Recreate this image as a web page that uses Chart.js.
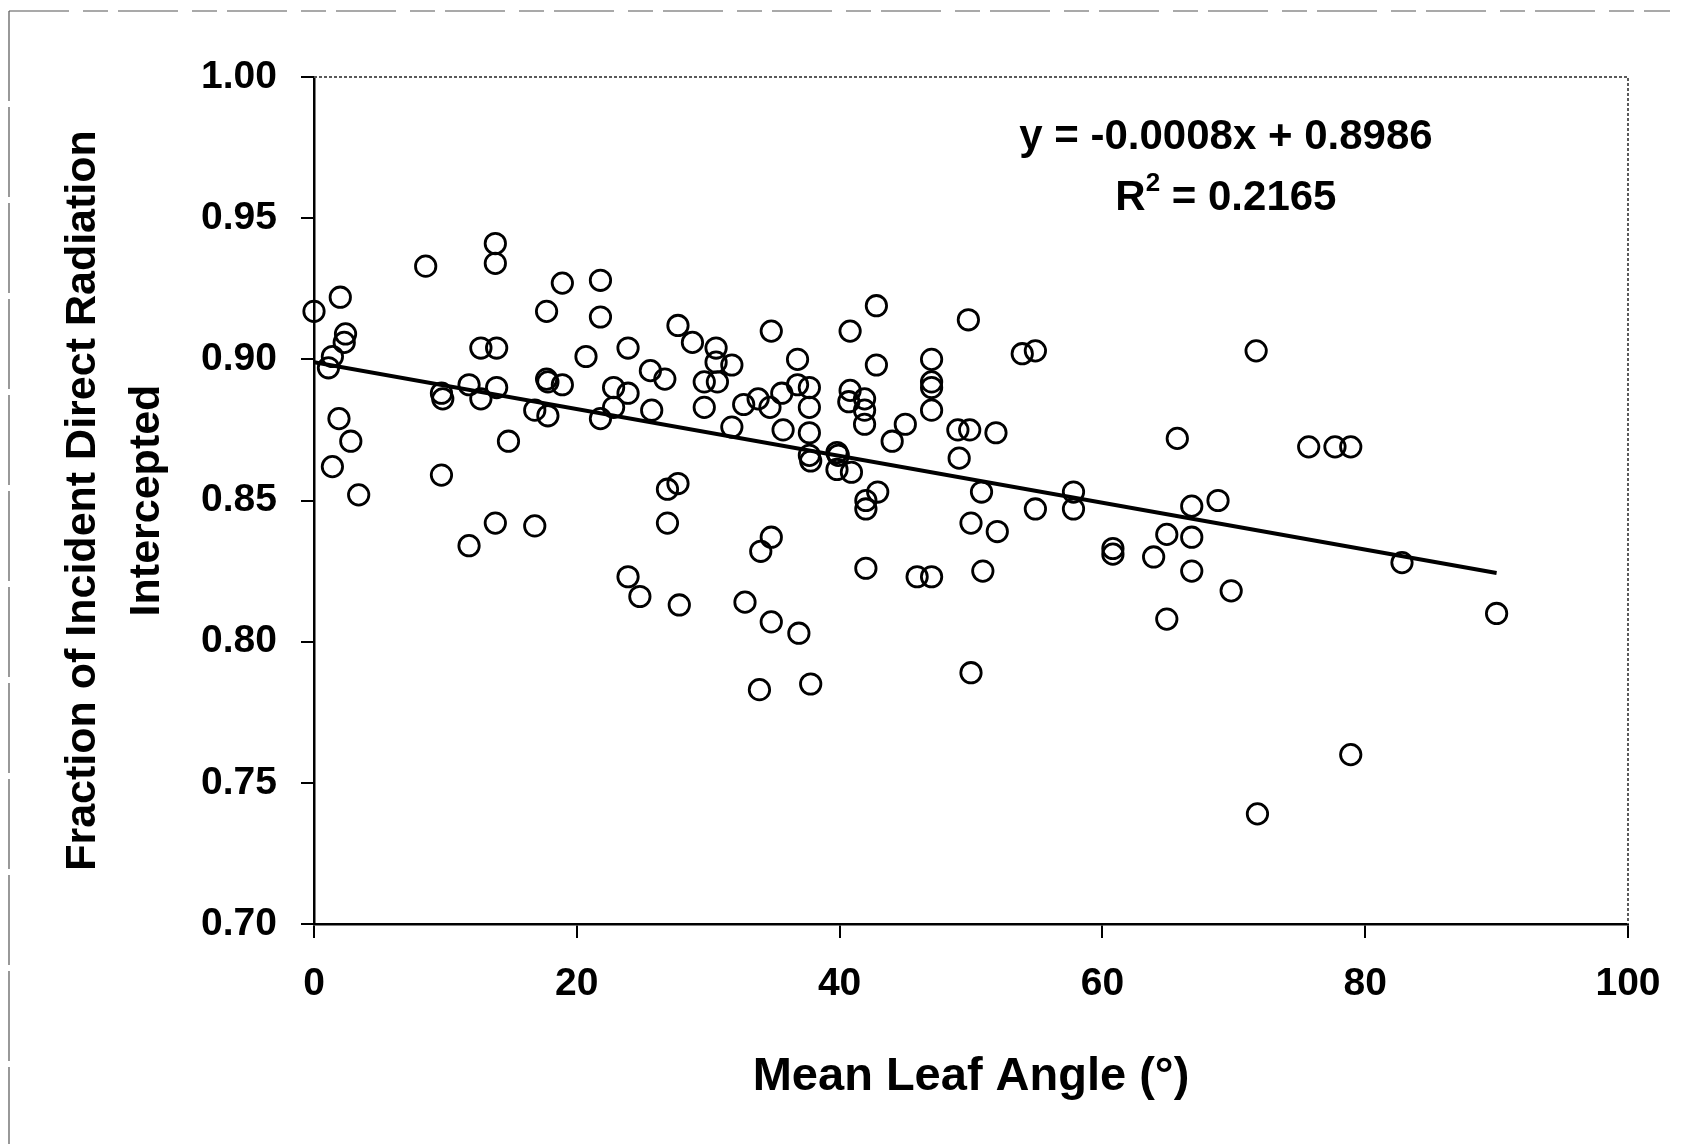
<!DOCTYPE html>
<html>
<head>
<meta charset="utf-8">
<title>Mean Leaf Angle vs Fraction of Direct Radiation Intercepted</title>
<script src="https://cdn.jsdelivr.net/npm/chart.js@4.4.1/dist/chart.umd.min.js"></script>
<style>
  html, body { margin: 0; padding: 0; background: #fff; }
  #wrap { width: 1684px; height: 1144px; }
</style>
</head>
<body>
<div id="wrap"><canvas id="leafChart" width="1684" height="1144"></canvas></div>
<script>
// mean leaf angle (degrees) of each canopy
const leafAngle = [
  0, 2.0, 2.4, 2.3, 1.4, 1.1, 1.9, 2.8, 1.4, 3.4,
  8.5, 9.7, 9.8, 9.7, 11.8, 11.8, 12.7, 12.7, 13.8, 13.8,
  13.9, 13.9, 13.8, 14.8, 16.8, 16.8, 17.7, 17.7, 17.8, 17.8,
  18.9, 18.9, 20.7, 21.8, 21.8, 21.8, 22.8, 22.8, 23.9, 23.9,
  23.9, 24.8, 25.6, 25.7, 26.7, 26.9, 26.9, 27.7, 27.8, 27.7,
  28.8, 29.7, 29.7, 30.6, 30.6, 30.7, 31.8, 31.8, 32.7, 32.8,
  33.8, 34.0, 33.9, 34.8, 34.7, 34.8, 34.8, 35.6, 35.7, 36.8,
  36.8, 36.9, 37.7, 37.7, 37.7, 37.7, 37.8, 37.8, 39.8, 39.9,
  39.8, 40.9, 40.8, 40.8, 40.7, 41.9, 41.9, 41.9, 42.9, 42.0,
  42.0, 42.0, 42.8, 42.8, 44.0, 45.0, 45.9, 47.0, 47.0, 47.0,
  47.0, 47.0, 49.0, 49.1, 49.9, 49.8, 50.0, 50.0, 50.8, 50.9,
  51.9, 52.0, 53.9, 54.9, 54.9, 57.8, 57.8, 60.8, 60.8, 63.9,
  64.9, 64.9, 65.7, 66.8, 66.8, 66.8, 68.8, 69.8, 71.7, 71.8,
  75.7, 77.7, 78.9, 78.9, 82.8, 90.0
];

// fraction of incident direct radiation intercepted
const fractionIntercepted = [
  0.917, 0.922, 0.909, 0.906, 0.901, 0.897, 0.879, 0.871, 0.862, 0.852,
  0.933, 0.888, 0.886, 0.859, 0.891, 0.834, 0.904, 0.886, 0.941, 0.934,
  0.904, 0.890, 0.842, 0.871, 0.841, 0.882, 0.917, 0.893, 0.892, 0.880,
  0.891, 0.927, 0.901, 0.928, 0.915, 0.879, 0.890, 0.883, 0.904, 0.888,
  0.823, 0.816, 0.896, 0.882, 0.893, 0.854, 0.842, 0.856, 0.813, 0.912,
  0.906, 0.892, 0.883, 0.904, 0.899, 0.892, 0.898, 0.876, 0.884, 0.814,
  0.886, 0.832, 0.783, 0.910, 0.883, 0.837, 0.807, 0.888, 0.875, 0.900,
  0.891, 0.803, 0.890, 0.883, 0.874, 0.866, 0.864, 0.785, 0.867, 0.866,
  0.861, 0.860, 0.910, 0.889, 0.885, 0.886, 0.882, 0.877, 0.853, 0.850,
  0.847, 0.826, 0.919, 0.898, 0.871, 0.877, 0.823, 0.823, 0.900, 0.892,
  0.890, 0.882, 0.875, 0.865, 0.875, 0.914, 0.842, 0.789, 0.853, 0.825,
  0.874, 0.839, 0.902, 0.903, 0.847, 0.853, 0.847, 0.833, 0.831, 0.830,
  0.838, 0.808, 0.872, 0.848, 0.837, 0.825, 0.850, 0.818, 0.903, 0.739,
  0.869, 0.869, 0.869, 0.760, 0.828, 0.810
];

const xTickValues = [0, 20, 40, 60, 80, 100];
const yTickValues = [0.70, 0.75, 0.80, 0.85, 0.90, 0.95, 1.00];

// linear fit drawn over the points
const trendSlope = -0.00083;
const trendIntercept = 0.899;
const trendRange = [0, 90];
const equationLabel = "y = -0.0008x + 0.8986";
const rSquaredLabel = "0.2165";

const FONT = "'Liberation Sans', Arial, Helvetica, sans-serif";
Chart.defaults.font.family = FONT;
Chart.defaults.color = "#000";

const annotationsPlugin = {
  id: "annotations",
  afterDraw(chart) {
    const { ctx, chartArea } = chart;
    ctx.save();

    // thin grey top/right edge of the plot box
    ctx.strokeStyle = "#5a5a5a";
    ctx.lineWidth = 2;
    ctx.setLineDash([3, 2]);
    ctx.beginPath();
    ctx.moveTo(chartArea.left, chartArea.top);
    ctx.lineTo(chartArea.right, chartArea.top);
    ctx.lineTo(chartArea.right, chartArea.bottom);
    ctx.stroke();

    // scanned figure frame (left and top)
    ctx.strokeStyle = "#555";
    ctx.lineWidth = 1.2;
    ctx.setLineDash([60, 14, 25, 10]);
    ctx.beginPath();
    ctx.moveTo(9, 11);
    ctx.lineTo(1670, 11);
    ctx.stroke();
    ctx.setLineDash([90, 6]);
    ctx.beginPath();
    ctx.moveTo(9, 11);
    ctx.lineTo(9, 1144);
    ctx.stroke();
    ctx.setLineDash([]);

    // regression equation
    const cx = chartArea.left + (chartArea.right - chartArea.left) * 0.694;
    ctx.fillStyle = "#000";
    ctx.textBaseline = "middle";
    ctx.textAlign = "center";
    ctx.font = "bold 42px " + FONT;
    ctx.fillText(equationLabel, cx, chartArea.top + 60);

    const rest = " = " + rSquaredLabel;
    const wR = ctx.measureText("R").width;
    const wRest = ctx.measureText(rest).width;
    ctx.font = "bold 26px " + FONT;
    const wSup = ctx.measureText("2").width;
    let x = cx - (wR + wSup + wRest) / 2;
    const y = chartArea.top + 121;
    ctx.textAlign = "left";
    ctx.font = "bold 42px " + FONT;
    ctx.fillText("R", x, y);
    ctx.font = "bold 26px " + FONT;
    ctx.fillText("2", x + wR, y - 14);
    ctx.font = "bold 42px " + FONT;
    ctx.fillText(rest, x + wR + wSup, y);

    ctx.restore();
  }
};

const points = leafAngle.map((a, i) => ({ x: a, y: fractionIntercepted[i] }));
const trendPoints = trendRange.map((a) => ({ x: a, y: trendIntercept + trendSlope * a }));

new Chart(document.getElementById("leafChart"), {
  type: "scatter",
  data: {
    datasets: [
      {
        type: "line",
        label: "fit",
        data: trendPoints,
        borderColor: "#000",
        borderWidth: 4,
        pointRadius: 0,
        fill: false,
        showLine: true,
        order: 0,
      },
      {
        label: "canopies",
        data: points,
        pointRadius: 10.2,
        pointBorderWidth: 2.8,
        pointBorderColor: "#000",
        pointBackgroundColor: "rgba(0,0,0,0)",
        clip: false,
        order: 1,
      },
    ],
  },
  options: {
    responsive: false,
    animation: false,
    layout: { padding: { top: 77, right: 56, bottom: 0, left: 0 } },
    plugins: {
      legend: { display: false },
      tooltip: { enabled: false },
    },
    scales: {
      x: {
        type: "linear",
        min: 0,
        max: 100,
        afterBuildTicks: (scale) => {
          scale.ticks = xTickValues.map((v) => ({ value: v }));
        },
        afterFit: (scale) => {
          scale.height = 220;
        },
        grid: { drawOnChartArea: false, drawTicks: true, tickLength: 14, color: "#000", lineWidth: 2 },
        border: { display: true, color: "#000", width: 2.5 },
        ticks: {
          padding: 23,
          color: "#000",
          font: { size: 39, weight: "bold" },
          callback: (v) => v,
        },
        title: {
          display: true,
          text: "Mean Leaf Angle (°)",
          color: "#000",
          font: { size: 47, weight: "bold" },
          padding: { top: 0, bottom: 39 },
        },
      },
      y: {
        type: "linear",
        min: 0.7,
        max: 1.0,
        afterBuildTicks: (scale) => {
          scale.ticks = yTickValues.map((v) => ({ value: v }));
        },
        afterFit: (scale) => {
          scale.width = 314;
        },
        grid: { drawOnChartArea: false, drawTicks: true, tickLength: 13, color: "#000", lineWidth: 2 },
        border: { display: true, color: "#000", width: 2.5 },
        ticks: {
          padding: 24,
          color: "#000",
          font: { size: 39, weight: "bold" },
          callback: (v) => Number(v).toFixed(2),
        },
        title: {
          display: true,
          text: ["Fraction of Incident Direct Radiation", "Intercepted"],
          color: "#000",
          font: { size: 43, weight: "bold", lineHeight: 1.49 },
          padding: { top: 51, bottom: 0 },
        },
      },
    },
  },
  plugins: [annotationsPlugin],
});
</script>
</body>
</html>
